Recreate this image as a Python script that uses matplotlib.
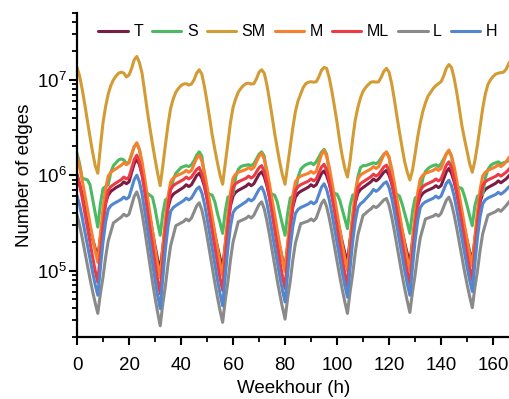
import numpy as np
import matplotlib
matplotlib.use("Agg")
import matplotlib.pyplot as plt
from matplotlib.ticker import MultipleLocator, LogLocator, NullFormatter

plt.rcParams['font.family'] = ['Liberation Sans', 'DejaVu Sans']
plt.rcParams['mathtext.fontset'] = 'custom'
plt.rcParams['mathtext.rm'] = 'Liberation Sans'
plt.rcParams['mathtext.it'] = 'Liberation Sans:italic'
plt.rcParams['mathtext.default'] = 'regular'

# weekhour 0..167
hours = list(range(168))

# number of edges, in thousands, read hour by hour from the chart
T_k = [1000, 803, 631, 479, 372, 282, 214, 170, 138, 224, 355, 513, 617, 676, 708, 741, 767, 794, 851, 813, 851, 1072, 1318, 1479,
       1288, 1014, 735, 518, 365, 257, 181, 131, 100, 176, 299, 453, 575, 631, 661, 689, 716, 746, 794, 759, 794, 887, 991, 1047,
       933, 760, 579, 431, 320, 238, 177, 135, 107, 187, 316, 476, 603, 661, 692, 716, 741, 767, 813, 776, 813, 912, 1023, 1084,
       964, 782, 590, 436, 321, 237, 175, 132, 105, 183, 309, 466, 589, 646, 676, 700, 724, 750, 794, 759, 794, 908, 1038, 1109,
       993, 815, 625, 469, 352, 264, 199, 152, 122, 210, 348, 516, 646, 708, 741, 776, 813, 851, 912, 871, 912, 991, 1076, 1122,
       1000, 820, 628, 470, 352, 263, 196, 150, 120, 202, 327, 479, 589, 646, 676, 697, 716, 738, 776, 741, 776, 916, 1081, 1175,
       1047, 859, 658, 492, 368, 275, 206, 157, 126, 214, 352, 520, 646, 708, 741, 767, 794, 822, 871, 832, 871, 912, 977, 1047]

S_k = [1698, 1318, 923, 912, 891, 794, 562, 398, 285, 501, 724, 759, 794, 1072, 1259, 1349, 1445, 1479, 1445, 1318, 1380, 1660, 1995, 2138,
       1862, 1259, 724, 646, 617, 589, 447, 316, 234, 398, 550, 575, 708, 891, 1047, 1122, 1202, 1230, 1259, 1230, 1288, 1413, 1622, 1758,
       1585, 1000, 661, 631, 617, 525, 398, 316, 245, 417, 589, 603, 631, 955, 1148, 1230, 1259, 1274, 1288, 1259, 1318, 1479, 1660, 1758,
       1585, 1000, 661, 631, 617, 525, 398, 302, 234, 398, 575, 603, 661, 955, 1148, 1230, 1288, 1318, 1349, 1288, 1380, 1549, 1738, 1862,
       1660, 1047, 692, 646, 631, 550, 437, 347, 275, 479, 617, 631, 955, 1202, 1259, 1259, 1288, 1318, 1349, 1318, 1380, 1514, 1660, 1738,
       1549, 1000, 661, 631, 603, 501, 398, 316, 245, 417, 575, 603, 661, 933, 1096, 1175, 1230, 1259, 1288, 1230, 1318, 1479, 1660, 1778,
       1585, 1047, 759, 741, 724, 603, 479, 372, 295, 479, 603, 617, 631, 933, 1148, 1259, 1318, 1349, 1380, 1318, 1349, 1380, 1413, 1445]

SM_k = [13490, 10960, 7943, 5495, 3715, 2512, 1738, 1259, 1047, 1995, 3548, 5248, 7079, 8710, 10000, 10960, 11750, 12020, 11750, 10720, 11220, 13180, 16220, 17580,
        15140, 11750, 7586, 4786, 3162, 2138, 1479, 1047, 776, 1259, 2089, 3388, 5012, 6310, 7413, 8128, 8710, 9016, 9120, 8810, 9016, 10000, 11750, 12740,
        11480, 8511, 5888, 3981, 2630, 1862, 1349, 1000, 803, 1318, 2138, 3548, 5129, 6310, 7413, 8128, 8710, 9120, 9226, 9016, 9120, 10230, 12020, 12740,
        11750, 8913, 6166, 4169, 2754, 1905, 1349, 1000, 803, 1259, 1995, 3162, 4677, 6026, 7079, 8318, 9120, 9441, 9550, 9441, 9550, 10720, 12590, 13490,
        13180, 10470, 7586, 5248, 3548, 2291, 1585, 1175, 955, 1413, 2399, 3802, 5129, 6457, 7586, 8318, 8913, 9441, 9550, 9441, 9550, 10720, 12300, 13180,
        12020, 9120, 6310, 4169, 2818, 1950, 1380, 1072, 891, 1122, 1660, 2512, 3548, 4677, 5754, 6761, 7413, 8128, 8710, 9120, 9550, 10960, 13180, 14450,
        13490, 10470, 7413, 5012, 3311, 2399, 1778, 1318, 1072, 1413, 2089, 3236, 5012, 7079, 8913, 10000, 10840, 11480, 11750, 11890, 12020, 12880, 14790, 16220]

M_k = [1556, 1222, 887, 625, 442, 312, 220, 160, 122, 238, 443, 719, 977, 1072, 1122, 1169, 1216, 1268, 1349, 1288, 1349, 1637, 1986, 2188,
       1858, 1387, 938, 614, 402, 263, 172, 116, 84.1, 176, 349, 598, 851, 933, 977, 1007, 1035, 1067, 1122, 1072, 1122, 1300, 1507, 1622,
       1403, 1081, 762, 524, 359, 246, 169, 119, 89.1, 188, 377, 652, 933, 1023, 1072, 1096, 1122, 1148, 1202, 1148, 1202, 1380, 1585, 1698,
       1472, 1138, 809, 557, 385, 265, 183, 130, 97.7, 195, 372, 617, 851, 933, 977, 1000, 1023, 1047, 1096, 1047, 1096, 1343, 1644, 1820,
       1574, 1213, 855, 587, 403, 276, 189, 134, 100, 202, 391, 655, 912, 1000, 1047, 1084, 1122, 1161, 1230, 1175, 1230, 1419, 1637, 1758,
       1524, 1178, 834, 574, 396, 273, 188, 133, 100, 202, 391, 655, 912, 1000, 1047, 1072, 1096, 1122, 1175, 1122, 1175, 1403, 1675, 1832,
       1592, 1239, 887, 617, 429, 299, 207, 148, 112, 224, 427, 708, 977, 1072, 1122, 1156, 1189, 1225, 1288, 1230, 1288, 1380, 1514, 1622]

ML_k = [1023, 800, 575, 403, 282, 197, 138, 99.1, 75.3, 153, 295, 495, 692, 759, 794, 828, 861, 897, 955, 912, 955, 1180, 1459, 1622,
        1371, 1014, 679, 440, 284, 184, 119, 79.4, 56.9, 126, 266, 478, 708, 776, 813, 841, 871, 902, 955, 912, 955, 1047, 1148, 1202,
        1035, 793, 556, 378, 256, 174, 119, 83.0, 61.7, 136, 282, 504, 741, 813, 851, 877, 902, 929, 977, 933, 977, 1081, 1197, 1259,
        1084, 830, 582, 395, 269, 182, 124, 86.9, 64.6, 137, 277, 481, 692, 759, 794, 818, 841, 867, 912, 871, 912, 1052, 1213, 1303,
        1125, 863, 607, 415, 283, 193, 132, 92.7, 69.2, 147, 296, 515, 741, 813, 851, 887, 923, 962, 1023, 977, 1023, 1117, 1219, 1274,
        1104, 853, 604, 416, 287, 198, 136, 96.6, 72.4, 149, 290, 492, 692, 759, 794, 818, 841, 867, 912, 871, 912, 1076, 1271, 1380,
        1197, 925, 658, 453, 313, 216, 149, 106, 79.4, 164, 323, 550, 776, 851, 891, 918, 944, 973, 1023, 977, 1023, 1072, 1148, 1230]

L_k = [384, 298, 220, 158, 114, 81.8, 60.4, 45.7, 35.5, 57.4, 85.1, 138, 204, 254, 316, 331, 347, 363, 389, 372, 389, 483, 600, 668,
       551, 398, 270, 177, 116, 76.6, 51.9, 36.3, 26.3, 44.8, 69.2, 118, 182, 232, 295, 305, 316, 327, 347, 331, 355, 411, 476, 513,
       432, 324, 229, 157, 108, 74.1, 52.4, 38.1, 28.6, 48.8, 75.5, 129, 199, 254, 324, 333, 343, 353, 372, 355, 380, 433, 492, 525,
       443, 333, 238, 164, 114, 78.7, 56.0, 41.0, 30.9, 51.3, 77.6, 129, 195, 245, 309, 316, 324, 331, 347, 331, 355, 423, 504, 550,
       467, 355, 255, 179, 125, 87.7, 63.1, 46.7, 35.5, 59.8, 91.6, 155, 237, 300, 380, 398, 422, 442, 473, 457, 479, 513, 550, 569,
       482, 366, 263, 184, 129, 89.9, 64.7, 47.8, 36.3, 59.7, 89.5, 147, 221, 277, 347, 355, 363, 372, 389, 372, 398, 466, 545, 589,
       501, 384, 279, 197, 139, 98.4, 71.4, 53.2, 40.7, 66.5, 99.5, 163, 243, 304, 380, 392, 403, 415, 437, 417, 447, 479, 519, 556]

H_k = [610, 485, 358, 258, 185, 133, 95.9, 70.8, 55.0, 107, 198, 322, 437, 479, 501, 519, 537, 556, 589, 562, 589, 728, 899, 1000,
       851, 637, 432, 284, 187, 123, 80.9, 55.0, 39.8, 83.9, 168, 291, 417, 457, 479, 499, 519, 541, 575, 550, 575, 641, 714, 753,
       653, 504, 357, 246, 169, 116, 80.2, 56.9, 42.7, 87.3, 170, 288, 405, 444, 465, 484, 506, 527, 562, 537, 562, 631, 711, 753,
       656, 511, 366, 255, 177, 124, 86.3, 61.8, 46.8, 92.7, 175, 290, 398, 437, 457, 471, 484, 499, 525, 501, 525, 625, 745, 813,
       708, 553, 399, 279, 195, 137, 95.9, 69.0, 52.5, 105, 200, 331, 457, 501, 525, 562, 603, 646, 708, 676, 708, 762, 820, 851,
       741, 579, 418, 292, 205, 143, 100, 72.3, 55.0, 108, 203, 334, 457, 501, 525, 541, 556, 573, 603, 575, 603, 703, 820, 885,
       774, 608, 441, 310, 219, 154, 109, 78.9, 60.3, 119, 223, 366, 501, 550, 575, 593, 610, 628, 661, 631, 661, 700, 750, 794]

series_names = ['T', 'S', 'SM', 'M', 'ML', 'L', 'H']
series_values = [T_k, S_k, SM_k, M_k, ML_k, L_k, H_k]
series_colors = ['#7a1c44', '#4cb963', '#d39b34', '#f8802c', '#ec3b45', '#8a8a8a', '#5287cf']

xticks = [0, 20, 40, 60, 80, 100, 120, 140, 160]

fig = plt.figure(figsize=(5.10, 3.99), dpi=100)
ax = fig.add_axes([0.151, 0.155, 0.849, 0.812])

for name, vals, col in zip(series_names, series_values, series_colors):
    ax.plot(hours, np.array(vals) * 1e3, color=col, lw=2.2, label=name,
            solid_joinstyle='round', solid_capstyle='round')

ax.set_yscale('log')
ax.set_ylim(2e4, 5e7)
ax.set_xlim(0, 166.5)
ax.set_xticks(xticks)
ax.xaxis.set_minor_locator(MultipleLocator(10))
ax.yaxis.set_major_locator(LogLocator(base=10, numticks=10))
ax.yaxis.set_minor_locator(LogLocator(base=10, subs=np.arange(2, 10), numticks=20))
ax.yaxis.set_minor_formatter(NullFormatter())

for s in ['top', 'right']:
    ax.spines[s].set_visible(False)
for s in ['left', 'bottom']:
    ax.spines[s].set_linewidth(1.6)
    ax.spines[s].set_color('black')

ax.tick_params(axis='both', which='major', direction='out', length=5.5, width=1.5,
               labelsize=13.5, color='black')
ax.tick_params(axis='both', which='minor', direction='out', length=3.5, width=1.3, color='black')
ax.tick_params(axis='x', which='major', pad=9)
ax.tick_params(axis='y', which='major', pad=2)

ax.set_xlabel('Weekhour (h)', fontsize=13.5, labelpad=4)
ax.set_ylabel('Number of edges', fontsize=13.5, labelpad=3)

leg = ax.legend(loc='upper center', bbox_to_anchor=(0.51, 0.985), ncol=7, frameon=False,
                fontsize=11.5, handlelength=1.85, handletextpad=0.35, columnspacing=0.55,
                borderaxespad=0.0)

fig.savefig('out.png', dpi=100)
